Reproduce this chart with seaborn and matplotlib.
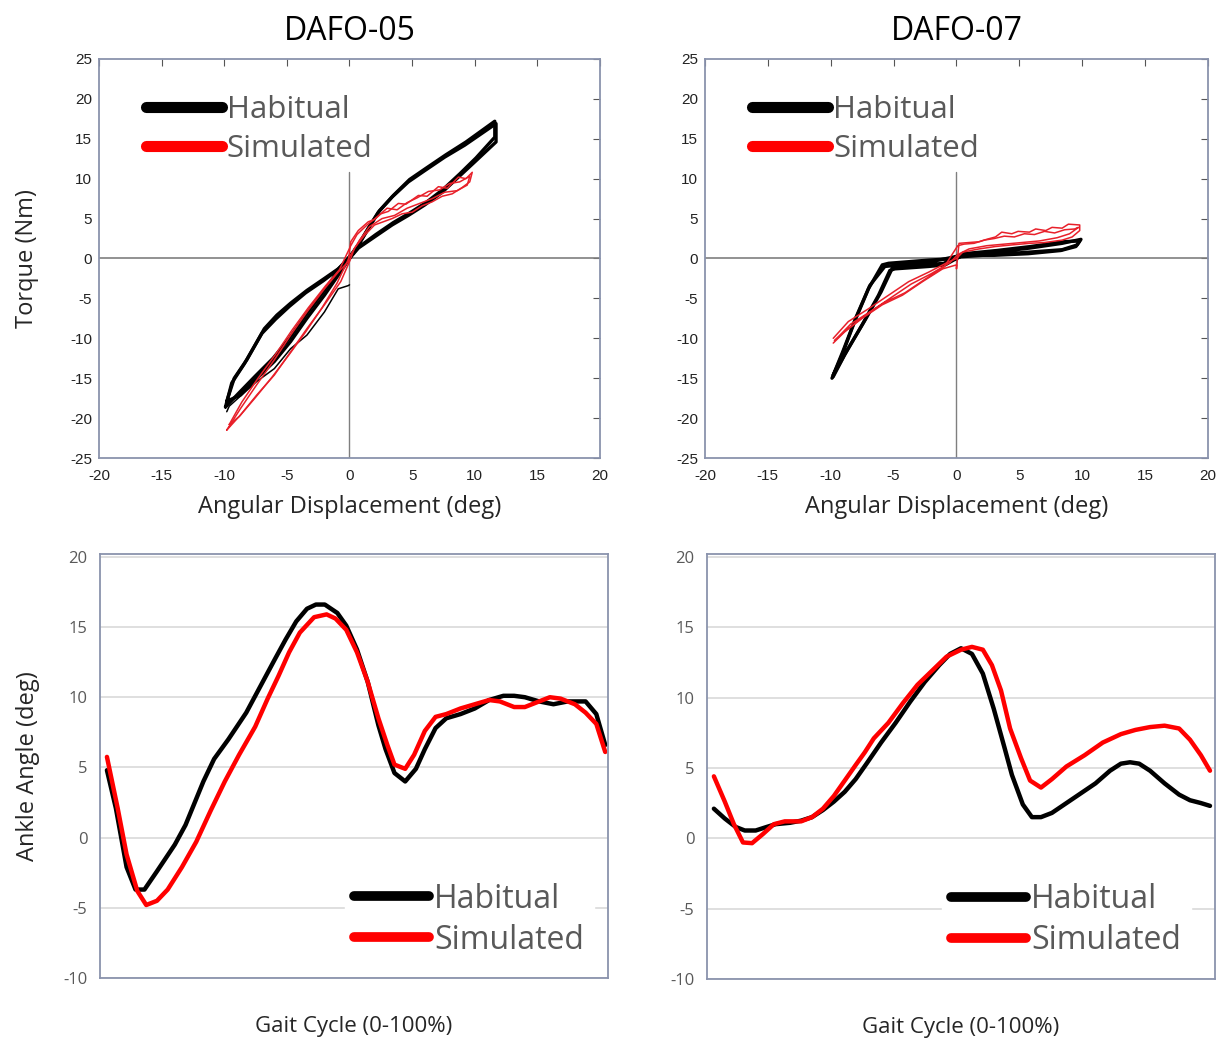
import numpy as np
import pandas as pd
import matplotlib
matplotlib.use("Agg")
import matplotlib.pyplot as plt
import seaborn as sns
from matplotlib.lines import Line2D

sns.set_style("white")
plt.rcParams['font.family'] = ['Open Sans', 'DejaVu Sans']
plt.rcParams['axes.unicode_minus'] = False

# ---------------- torque vs angle loops ----------------
# DAFO-05, habitual: outer cycle
h05_a_x = [-9.8, -9.2, -8.2, -6.8, -5.8, -4.7, -3.4, -2.0, -0.9, 0.0, 0.7, 1.5, 2.3, 3.4, 4.7, 6.0, 7.6, 9.2, 11.7,
           11.7, 10.0, 8.7, 7.4, 6.0, 4.7, 3.4, 2.0, 0.7, 0.0, -0.9, -2.0, -3.4, -4.7, -6.0, -7.4, -8.7, -9.8]
h05_a_y = [-17.9, -15.0, -12.7, -8.8, -7.1, -5.6, -4.0, -2.5, -1.3, 0.0, 1.7, 3.8, 5.8, 7.7, 9.6, 11.0, 12.7, 14.2, 16.9,
           14.6, 12.1, 10.2, 8.3, 6.7, 5.4, 4.2, 2.7, 1.3, 0.0, -2.1, -4.6, -7.5, -10.4, -12.9, -15.0, -17.1, -17.9]
# DAFO-05, habitual: second cycle
h05_b_x = [-9.9, -9.4, -8.4, -7.0, -5.9, -4.8, -3.5, -2.1, -1.0, 0.0, 0.8, 1.6, 2.4, 3.5, 4.8, 6.1, 7.7, 9.3, 11.6,
           11.6, 10.1, 8.8, 7.5, 6.1, 4.8, 3.5, 2.1, 0.8, 0.0, -1.0, -2.1, -3.5, -4.8, -6.1, -7.5, -8.8, -9.9]
h05_b_y = [-18.6, -15.6, -13.2, -9.4, -7.6, -6.0, -4.3, -2.8, -1.5, 0.2, 1.9, 4.0, 6.0, 7.9, 9.9, 11.3, 13.0, 14.6, 17.2,
           15.2, 12.6, 10.6, 8.7, 7.0, 5.7, 4.5, 3.0, 1.5, 0.2, -1.8, -4.2, -7.1, -10.0, -12.5, -14.7, -16.8, -18.6]
# DAFO-05, habitual: stray trace
h05_c_x = [0.0, -0.1, -0.9, -2.0, -3.4, -4.7, -6.0, -7.4, -9.6, -9.8]
h05_c_y = [-3.3, -3.4, -3.8, -6.7, -9.6, -11.3, -13.8, -15.4, -18.5, -19.2]

# DAFO-05, simulated
s05_a_x = [-9.8, -8.7, -7.4, -6.0, -4.7, -3.4, -2.0, -0.9, -0.1, 0.1, 0.7, 1.5, 2.0, 2.5, 3.1, 3.9, 4.5, 5.5, 6.2, 7.1,
           7.8, 8.7, 9.3, 9.8, 9.6, 9.0, 8.2, 7.4, 6.6, 5.8, 5.0, 4.2, 3.4, 2.0, 1.2, 0.4, 0.0, -0.7, -2.0, -3.4, -4.7,
           -6.0, -7.4, -8.7, -9.8]
s05_a_y = [-21.5, -18.8, -15.8, -12.7, -9.6, -6.7, -3.8, -1.7, -0.4, 2.1, 3.5, 4.6, 4.9, 5.6, 5.9, 6.9, 6.8, 7.9, 7.8, 9.0,
           8.8, 10.2, 10.0, 10.8, 9.6, 8.9, 8.1, 7.8, 7.1, 6.6, 5.8, 5.6, 5.0, 4.2, 2.9, 1.3, -0.4, -2.9, -5.8, -8.8, -11.7,
           -14.6, -17.1, -19.6, -21.5]
s05_b_x = [-9.6, -8.6, -7.3, -5.9, -4.6, -3.3, -1.9, -0.8, 0.1, 0.6, 1.4, 2.2, 3.0, 3.8, 4.6, 5.4, 6.3, 7.2, 8.0, 8.8, 9.6,
           9.4, 8.6, 7.6, 6.6, 5.6, 4.6, 3.6, 2.6, 1.6, 0.8, 0.0, -1.0, -2.2, -3.5, -4.8, -6.2, -7.5, -8.8, -9.6]
s05_b_y = [-20.8, -18.0, -15.0, -12.0, -9.0, -6.2, -3.4, -1.4, 1.6, 3.0, 4.2, 5.2, 6.3, 6.1, 7.0, 7.6, 8.4, 8.6, 9.4, 9.6,
           10.3, 9.2, 8.5, 8.3, 7.5, 6.9, 6.3, 5.4, 5.0, 4.0, 2.3, 0.2, -3.1, -6.2, -9.2, -12.0, -14.9, -17.4, -19.8, -20.8]

# DAFO-07, habitual
h07_a_x = [-9.9, -9.1, -8.1, -7.0, -5.9, -5.4, -2.2, 0.0, 0.5, 3.1, 5.8, 8.4, 9.9,
           9.6, 8.4, 5.8, 3.1, 0.2, 0.0, -0.9, -2.2, -4.9, -5.3, -6.2, -7.5, -8.9, -9.8]
h07_a_y = [-15.0, -12.1, -7.9, -3.8, -0.8, -0.6, -0.2, 0.0, 0.4, 0.8, 1.3, 1.9, 2.4,
           1.7, 1.1, 0.8, 0.5, 0.2, 0.0, -0.8, -1.0, -1.3, -1.5, -4.6, -8.3, -12.1, -14.8]
h07_b_x = [-9.8, -9.0, -8.0, -6.9, -5.7, -5.1, -2.0, 0.1, 0.6, 3.2, 5.9, 8.5, 9.8,
           9.5, 8.3, 5.7, 3.0, 0.3, 0.1, -1.0, -2.4, -4.8, -5.1, -6.0, -7.3, -8.7, -9.8]
h07_b_y = [-14.6, -11.5, -7.4, -3.4, -1.0, -0.9, -0.4, 0.3, 0.6, 1.0, 1.5, 2.1, 2.2,
           1.5, 1.0, 0.6, 0.4, 0.4, 0.3, -0.6, -0.8, -1.1, -1.2, -4.2, -7.8, -11.5, -14.6]

# DAFO-07, simulated
s07_a_x = [-9.8, -8.9, -7.5, -5.9, -4.3, -2.7, -1.1, 0.0, 0.0, 0.2, 1.0, 1.8, 2.4, 3.1, 3.6, 4.4, 4.9, 5.8, 6.3, 7.1,
           7.6, 8.4, 8.9, 9.8, 9.8, 9.2, 8.4, 7.0, 5.8, 4.4, 3.1, 1.8, 0.5, 0.0, -0.6, -2.2, -3.8, -5.4, -7.0, -8.6, -9.8]
s07_a_y = [-10.6, -9.2, -7.5, -5.8, -4.6, -2.9, -1.3, -0.8, -1.3, 1.9, 2.0, 2.1, 2.4, 2.7, 3.3, 3.1, 3.4, 3.3, 3.7, 3.5,
           3.9, 3.8, 4.3, 4.2, 3.5, 2.7, 2.3, 2.0, 1.9, 1.7, 1.5, 1.2, 0.8, 0.0, -0.4, -1.7, -2.9, -4.6, -6.3, -7.9, -10.0]
s07_b_x = [-9.7, -8.7, -7.3, -5.7, -4.1, -2.5, -1.0, 0.1, 0.6, 1.4, 2.2, 3.0, 3.8, 4.6, 5.4, 6.2, 7.0, 7.8, 8.6, 9.4, 9.7,
           9.0, 8.0, 6.6, 5.2, 3.8, 2.4, 1.0, 0.1, -0.5, -2.0, -3.6, -5.2, -6.8, -8.4, -9.7]
s07_b_y = [-10.3, -8.9, -7.2, -5.5, -4.3, -2.6, -1.1, 1.6, 1.8, 1.9, 2.3, 2.5, 2.8, 2.7, 3.1, 3.0, 3.4, 3.2, 3.6, 3.7, 3.9,
           3.1, 2.6, 2.2, 2.0, 1.8, 1.6, 1.2, 0.5, -0.5, -1.9, -3.2, -4.9, -6.6, -8.2, -10.3]

# ---------------- ankle angle over gait cycle ----------------
# positions, converted to 0-100 % below
g05_h_px = [130, 155, 185, 210, 235, 270, 320, 350, 400, 430, 470, 520, 560, 600, 630, 660, 690, 715, 740, 775, 800,
            830, 860, 890, 910, 935, 965, 995, 1020, 1050, 1080, 1120, 1160, 1200, 1240, 1270, 1300, 1340, 1380, 1420,
            1470, 1500, 1525]
g05_h_y = [4.8, 2.1, -2.1, -3.7, -3.7, -2.4, -0.5, 0.9, 4.0, 5.6, 7.0, 8.9, 10.8, 12.7, 14.1, 15.4, 16.3, 16.6, 16.6,
           16.0, 15.1, 13.4, 11.1, 8.0, 6.3, 4.6, 4.0, 4.9, 6.3, 7.8, 8.5, 8.8, 9.2, 9.8, 10.1, 10.1, 10.0, 9.7, 9.5,
           9.7, 9.7, 8.8, 6.6]
g05_s_px = [130, 160, 185, 215, 240, 270, 300, 340, 380, 420, 460, 500, 545, 580, 610, 640, 670, 710, 745, 770, 800,
            830, 860, 890, 915, 935, 965, 990, 1020, 1050, 1080, 1120, 1160, 1200, 1230, 1270, 1300, 1340, 1370, 1400,
            1440, 1470, 1500, 1525]
g05_s_y = [5.75, 2.1, -1.2, -3.8, -4.8, -4.5, -3.7, -2.1, -0.3, 1.9, 4.0, 5.9, 7.9, 9.9, 11.5, 13.2, 14.6, 15.7, 15.9,
           15.6, 14.8, 13.2, 11.1, 8.5, 6.6, 5.2, 4.9, 5.9, 7.6, 8.6, 8.8, 9.2, 9.5, 9.8, 9.7, 9.3, 9.3, 9.7, 10.0, 9.9,
           9.5, 8.9, 8.1, 6.1]
g07_h_px = [140, 170, 200, 225, 255, 285, 310, 350, 380, 410, 440, 470, 500, 530, 560, 600, 640, 680, 720, 760, 790,
            820, 850, 880, 910, 940, 960, 990, 1015, 1040, 1070, 1110, 1150, 1190, 1230, 1260, 1285, 1310, 1340, 1380,
            1420, 1450, 1480, 1505]
g07_h_y = [2.1, 1.4, 0.8, 0.55, 0.55, 0.8, 1.0, 1.1, 1.25, 1.5, 2.0, 2.6, 3.3, 4.2, 5.3, 6.8, 8.2, 9.7, 11.1, 12.3,
           13.1, 13.5, 13.1, 11.7, 9.2, 6.4, 4.5, 2.4, 1.5, 1.5, 1.8, 2.5, 3.2, 3.9, 4.8, 5.3, 5.4, 5.3, 4.8, 3.9, 3.1,
           2.7, 2.5, 2.3]
g07_s_px = [140, 170, 195, 220, 245, 275, 305, 335, 380, 410, 440, 470, 500, 530, 555, 580, 620, 660, 700, 740, 780,
            820, 850, 880, 905, 930, 955, 985, 1010, 1040, 1070, 1110, 1160, 1210, 1260, 1300, 1340, 1380, 1420, 1450,
            1480, 1505]
g07_s_y = [4.4, 2.6, 1.0, -0.3, -0.35, 0.3, 1.0, 1.2, 1.2, 1.5, 2.1, 3.0, 4.1, 5.2, 6.1, 7.1, 8.2, 9.6, 10.9, 11.9,
           12.9, 13.4, 13.6, 13.4, 12.3, 10.5, 7.8, 5.7, 4.1, 3.6, 4.2, 5.1, 5.9, 6.8, 7.4, 7.7, 7.9, 8.0, 7.8, 7.0, 5.9,
           4.8]


def loops(pairs):
    frames = []
    for i, (x, y) in enumerate(pairs):
        frames.append(pd.DataFrame({'deg': x, 'Nm': y, 'cycle': i}))
    return pd.concat(frames, ignore_index=True)


def gait(px, y, start, end):
    pct = (np.array(px) - start) / (end - start) * 100
    return pd.DataFrame({'pct': pct, 'angle': y})


grey = '#595959'
frame_col = '#8a93ad'

fig = plt.figure(figsize=(12.25, 10.4), dpi=100)
ax1 = fig.add_axes([0.0808, 0.5596, 0.409, 0.3837])
ax2 = fig.add_axes([0.5755, 0.5596, 0.4106, 0.3837])
ax3 = fig.add_axes([0.0816, 0.0596, 0.4145, 0.4077])
ax4 = fig.add_axes([0.5771, 0.0587, 0.4147, 0.4086])

top = [
    (ax1, 'DAFO-05', loops([(h05_a_x, h05_a_y), (h05_b_x, h05_b_y)]), loops([(h05_c_x, h05_c_y)]),
     loops([(s05_a_x, s05_a_y), (s05_b_x, s05_b_y)])),
    (ax2, 'DAFO-07', loops([(h07_a_x, h07_a_y), (h07_b_x, h07_b_y)]), None,
     loops([(s07_a_x, s07_a_y), (s07_b_x, s07_b_y)])),
]

for ax, title, hab, stray, sim in top:
    ax.axhline(0, color='#7f7f7f', lw=1.2, zorder=1)
    ax.axvline(0, ymin=0, ymax=(25 + 10.8) / 50, color='#7f7f7f', lw=1.0, zorder=1)
    sns.lineplot(data=hab, x='deg', y='Nm', units='cycle', estimator=None, sort=False,
                 color='black', lw=2.4, ax=ax, legend=False)
    if stray is not None:
        sns.lineplot(data=stray, x='deg', y='Nm', units='cycle', estimator=None, sort=False,
                     color='black', lw=1.1, ax=ax, legend=False)
    sns.lineplot(data=sim, x='deg', y='Nm', units='cycle', estimator=None, sort=False,
                 color='#e8202a', lw=1.1, ax=ax, legend=False)
    ax.set_xlim(-20, 20)
    ax.set_ylim(-25, 25)
    ax.set_xticks(range(-20, 21, 5))
    ax.set_yticks(range(-25, 26, 5))
    ax.tick_params(direction='in', length=5, width=0.8, color='#555555', top=True, right=True,
                   labelsize=11, labelcolor='#222222')
    ax.tick_params(axis='x', pad=8)
    ax.tick_params(axis='y', pad=5)
    for lab in ax.get_xticklabels() + ax.get_yticklabels():
        lab.set_family(['Liberation Sans', 'DejaVu Sans'])
    for s in ax.spines.values():
        s.set_color(frame_col)
        s.set_linewidth(1.3)
    ax.set_title(title, fontsize=23, pad=14, color='black')
    ax.set_xlabel('Angular Displacement (deg)', fontsize=17)
    ax.xaxis.set_label_coords(0.5, -0.093)
    ax.set_ylabel('')
    handles = [Line2D([], [], color='black', lw=8, solid_capstyle='round'),
               Line2D([], [], color='#ff0000', lw=8, solid_capstyle='round')]
    ax.legend(handles, ['Habitual', 'Simulated'], loc='upper left', bbox_to_anchor=(0.068, 0.94),
              frameon=False, fontsize=22.5, labelcolor=grey, handlelength=2.45, handletextpad=0.15,
              labelspacing=0.28, borderaxespad=0)

ax1.set_ylabel('Torque (Nm)', fontsize=17)
ax1.yaxis.set_label_coords(-0.12, 0.5)

bottom = [
    (ax3, gait(g05_h_px, g05_h_y, 130, 1525), gait(g05_s_px, g05_s_y, 130, 1525), (-1.4, 100.5), 0.482),
    (ax4, gait(g07_h_px, g07_h_y, 140, 1505), gait(g07_s_px, g07_s_y, 140, 1505), (-1.4, 101.0), 0.462),
]

for ax, hab, sim, xl, lx in bottom:
    ax.set_axisbelow(True)
    ax.grid(axis='y', color='#d9d9d9', lw=1.2)
    sns.lineplot(data=hab, x='pct', y='angle', color='black', lw=3.2, ax=ax, sort=False)
    sns.lineplot(data=sim, x='pct', y='angle', color='#ff0000', lw=3.2, ax=ax, sort=False)
    ax.set_xlim(*xl)
    ax.set_ylim(-10, 20.2)
    ax.set_yticks(range(-10, 21, 5))
    ax.set_xticks([])
    ax.tick_params(axis='y', length=0, labelsize=12, labelcolor=grey, pad=9)
    for s in ax.spines.values():
        s.set_color(frame_col)
        s.set_linewidth(1.3)
    ax.set_xlabel('Gait Cycle (0-100%)', fontsize=16)
    ax.xaxis.set_label_coords(0.5, -0.09)
    ax.set_ylabel('')
    handles = [Line2D([], [], color='black', lw=7, solid_capstyle='round'),
               Line2D([], [], color='#ff0000', lw=7, solid_capstyle='round')]
    leg = ax.legend(handles, ['Habitual', 'Simulated'], loc='lower left', bbox_to_anchor=(lx, 0.028),
                    frameon=True, fontsize=23, labelcolor=grey, handlelength=2.35, handletextpad=0.15,
                    labelspacing=0.25, borderaxespad=0, fancybox=False, borderpad=0.3)
    leg.get_frame().set_facecolor('white')
    leg.get_frame().set_edgecolor('white')
    leg.get_frame().set_alpha(1)

ax3.set_ylabel('Ankle Angle (deg)', fontsize=17)
ax3.yaxis.set_label_coords(-0.118, 0.5)

fig.savefig('out.png', dpi=100)
